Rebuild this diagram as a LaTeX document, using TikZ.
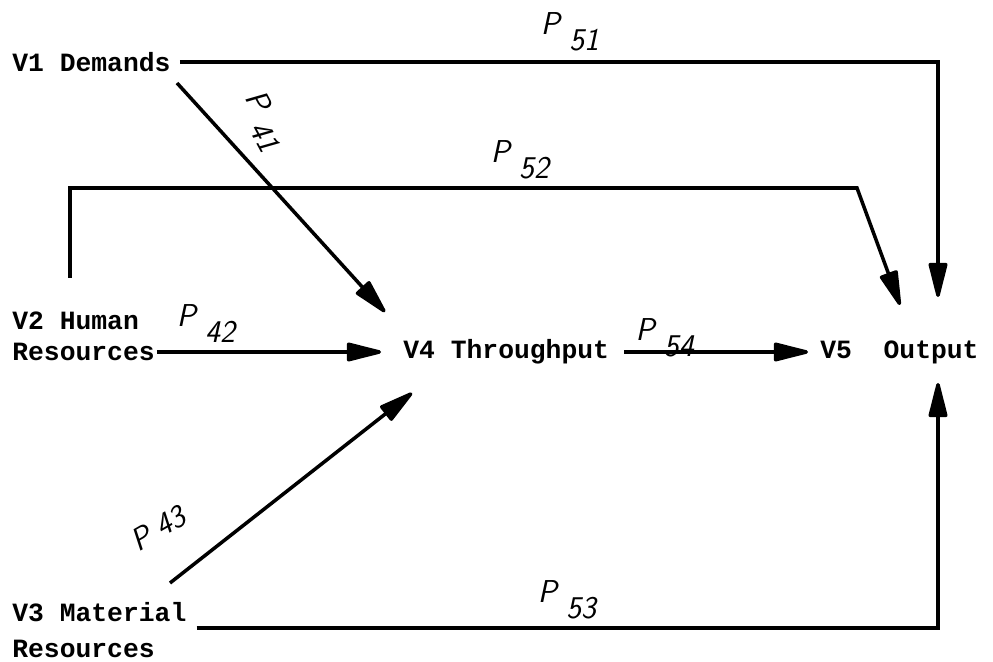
\documentclass[tikz,border=0pt]{standalone}
\usepackage{fontspec}
\usepackage{tikz}
\usetikzlibrary{arrows.meta,positioning,calc}
\newfontfamily\printfont{Liberation Mono}
\definecolor{inkblack}{HTML}{000000}
\newcommand{\pth}[2][-0.32cm]{\textit{P}\hspace{0.14cm}\raisebox{#1}{\textit{#2}}}
\tikzset{
  var/.style={font=\printfont\bfseries\fontsize{15}{17.5}\selectfont,
    inner sep=0pt,anchor=west,align=left,text=inkblack},
  plab/.style={font=\sffamily\fontsize{18}{18}\selectfont,inner sep=0pt,text=inkblack},
  link/.style={draw=inkblack,line width=2pt},
  flow/.style={link,-{Triangle[length=8mm,width=3.8mm,round]}}
}

\begin{document}
\begin{tikzpicture}
  \useasboundingbox (0,0) rectangle (19.86,13.22);

  % Variables
  \node[var] (v1) at (0.24,11.98) {V1 Demands};
  \node[var] (v2) at (0.24,6.50) {V2 Human\\Resources};
  \node[var] (v3) at (0.24,0.62) {V3 Material\\[3pt]Resources};
  \node[var] (v4) at (8.06,6.18) {V4 Throughput};
  \node[var] (v5) at (16.40,6.18) {V5\ \ Output};

  % Free ends of the paths
  \coordinate (s41) at (3.54,11.56);
  \coordinate (t41) at (7.70,6.98);
  \coordinate (s52) at (1.40,7.66);
  \coordinate (b52) at (17.14,9.46);
  \coordinate (t52) at (18.00,7.12);
  \coordinate (t51) at (18.76,7.28);
  \coordinate (s43) at (3.40,1.56);
  \coordinate (t43) at (8.24,5.36);
  \coordinate (t53) at (18.76,5.56);

  % Paths into V4
  \draw[flow] (s41) -- (t41);
  \draw[flow,shorten <=1pt,shorten >=0.44cm] (v2.east |- v4.west) -- (v4.west);
  \draw[flow] (s43) -- (t43);

  % Paths into V5
  \draw[flow,shorten <=0.3cm,shorten >=0.24cm] (v4.east) -- (v5.west);
  \draw[flow,shorten <=0.18cm] (v1.east) -| (t51);
  \draw[flow] (s52) |- (b52) -- (t52);
  \draw[flow,shorten <=0.2cm] ([yshift=0.04cm]v3.east) -| (t53);

  % Path coefficients
  \node[plab] (p51) at (11.40,12.58) {\pth{51}};
  \node[plab] (p52) at (10.42,10.02) {\pth{52}};
  \node[plab,rotate=-62] (p41) at (5.26,10.80) {\pth[-0.22cm]{41}};
  \node[plab] (p42) at (4.14,6.74) {\pth{42}};
  \node[plab] (p54) at (13.30,6.46) {\pth{54}};
  \node[plab,rotate=30] (p43) at (3.18,2.66) {\pth[0.02cm]{43}};
  \node[plab] (p53) at (11.36,1.22) {\pth{53}};
\end{tikzpicture}
\end{document}
